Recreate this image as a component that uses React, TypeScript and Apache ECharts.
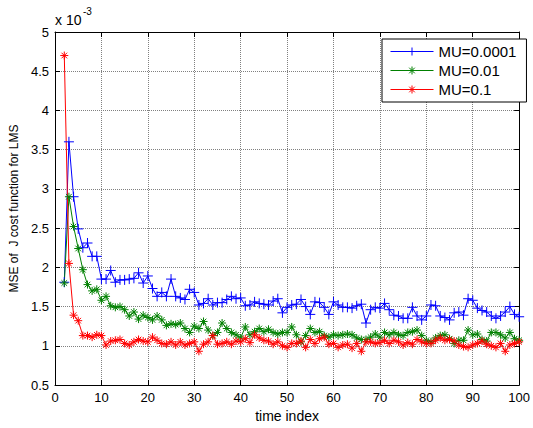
import React, { useEffect, useRef } from "react";
import * as echarts from "echarts";

const START_INDEX = 2;
const seriesNames = ["MU=0.0001", "MU=0.01", "MU=0.1"];
const xTicks = [0, 10, 20, 30, 40, 50, 60, 70, 80, 90, 100];

const mu0001 = [
  1.81, 3.6, 2.9, 2.49, 2.25, 2.31, 2.14, 2.14, 1.85, 1.85,
  1.96, 1.81, 1.84, 1.84, 1.85, 1.86, 1.93, 1.8, 1.89, 1.73,
  1.63, 1.68, 1.63, 1.85, 1.63, 1.61, 1.59, 1.72, 1.68, 1.52,
  1.54, 1.6, 1.52, 1.55, 1.55, 1.59, 1.63, 1.6, 1.61, 1.51,
  1.52, 1.56, 1.54, 1.53, 1.52, 1.57, 1.6, 1.42, 1.49, 1.52,
  1.53, 1.59, 1.5, 1.4, 1.56, 1.55, 1.49, 1.4, 1.56, 1.52,
  1.49, 1.49, 1.48, 1.51, 1.53, 1.29, 1.46, 1.49, 1.48, 1.54,
  1.46, 1.39, 1.38, 1.35, 1.35, 1.49, 1.38, 1.33, 1.38, 1.52,
  1.51, 1.38, 1.36, 1.33, 1.42, 1.43, 1.39, 1.6, 1.58, 1.48,
  1.45, 1.43, 1.38, 1.35, 1.38, 1.43, 1.5, 1.4, 1.37,
];

const mu001 = [
  1.8, 2.9, 2.52, 2.24, 1.97, 1.78, 1.7, 1.72, 1.58, 1.63,
  1.51, 1.49, 1.5, 1.46, 1.38, 1.43, 1.34, 1.39, 1.36, 1.33,
  1.38, 1.33, 1.26, 1.28, 1.27, 1.29, 1.22, 1.17, 1.25, 1.22,
  1.31, 1.2, 1.13, 1.17, 1.29, 1.22, 1.17, 1.14, 1.1, 1.24,
  1.14, 1.18, 1.22, 1.18, 1.21, 1.17, 1.15, 1.17, 1.17, 1.24,
  1.14, 1.05, 1.13, 1.22, 1.17, 1.18, 1.13, 1.11, 1.14, 1.13,
  1.14, 1.15, 1.14, 1.1, 1.08, 1.08, 1.11, 1.15, 1.11, 1.17,
  1.14, 1.17, 1.14, 1.13, 1.17, 1.18, 1.2, 1.13, 1.07, 1.05,
  1.1, 1.13, 1.14, 1.09, 1.03, 1.07, 1.07, 1.2, 1.14, 1.15,
  1.08, 1.06, 1.17, 1.17, 1.14, 1.1, 1.17, 1.09, 1.07,
];

const mu01 = [
  4.7, 2.05, 1.39, 1.32, 1.13, 1.13, 1.11, 1.14, 1.13, 1.01,
  1.06, 1.07, 1.08, 1.03, 1.01, 1.05, 1.08, 1.06, 1.05, 1.11,
  1.07, 1.03, 1.02, 1.05, 1.01, 1.05, 1.01, 1.03, 1.05, 0.93,
  1.02, 1.05, 1.13, 1.02, 1.03, 1.05, 1.02, 1.06, 1.05, 1.09,
  1.04, 1.14, 1.1, 1.07, 1.06, 1.02, 1.05, 1.0, 0.98, 1.03,
  1.03, 1.06, 0.98, 1.08, 1.03, 1.09, 1.11, 1.02, 1.03, 0.98,
  1.01, 1.02, 0.97, 1.03, 0.93, 1.05, 1.05, 1.03, 1.04, 1.07,
  1.03, 1.07, 1.05, 1.01, 1.04, 1.02, 1.08, 1.05, 1.03, 1.03,
  1.07, 1.1, 1.07, 1.08, 1.06, 1.01, 0.99, 0.98, 1.01, 1.03,
  1.06, 1.02, 1.0, 0.98, 1.03, 0.93, 1.01, 1.03, 1.05,
];

const colors = ["#0000ff", "#008000", "#ff0000"];
const FONT = "Liberation Sans, Arial, sans-serif";

const PLUS = "path://M5 0 L5 10 M0 5 L10 5";
const STAR = "path://M5 0 L5 10 M0 5 L10 5 M1.5 1.5 L8.5 8.5 M8.5 1.5 L1.5 8.5";

function toPairs(vals: number[]) {
  return vals.map((v, i) => [START_INDEX + i, v]);
}

export default function App() {
  const ref = useRef<HTMLDivElement>(null);
  useEffect(() => {
    document.body.style.margin = "0";
    const chart = echarts.init(ref.current!, undefined, { renderer: "svg" });
    const axisLine = { show: true, onZero: false, lineStyle: { color: "#000", width: 1 } };
    const tick = { show: true, inside: true, length: 5, lineStyle: { color: "#000" } };
    const split = { show: true, lineStyle: { color: "#808080", type: "dotted" as const, width: 1 } };
    const mkSeries = (name: string, data: number[], color: string, symbol: string, size: number) => ({
      name,
      type: "line",
      data: toPairs(data),
      symbol,
      symbolSize: size,
      showSymbol: true,
      lineStyle: { color, width: 1 },
      itemStyle: { color, borderColor: color, borderWidth: 1 },
      emphasis: { disabled: true },
      z: 3,
    });
    chart.setOption({
      animation: false,
      grid: { left: 55, right: 12, top: 32, bottom: 38, containLabel: false },
      legend: {
        left: 382,
        top: 39,
        orient: "vertical",
        itemWidth: 43,
        itemHeight: 10,
        itemGap: 4,
        padding: [5, 10, 5, 8],
        borderColor: "#000",
        borderWidth: 1,
        backgroundColor: "#fff",
        lineStyle: { width: 1 },
        itemStyle: { borderWidth: 1 },
        textStyle: { fontSize: 15, fontFamily: FONT, color: "#000", padding: [0, 0, 0, 0] },
        data: seriesNames,
      },
      xAxis: [
        {
          type: "value",
          min: xTicks[0],
          max: xTicks[xTicks.length - 1],
          interval: 10,
          name: "time index",
          nameLocation: "middle",
          nameGap: 24,
          nameTextStyle: { fontSize: 14, fontFamily: FONT, color: "#000" },
          axisLine,
          axisTick: tick,
          axisLabel: { fontSize: 13, fontFamily: FONT, color: "#000", margin: 6 },
          splitLine: split,
        },
        {
          type: "value",
          position: "top",
          min: 0,
          max: 100,
          interval: 10,
          axisLine,
          axisTick: tick,
          axisLabel: { show: false },
          splitLine: { show: false },
        },
      ],
      yAxis: [
        {
          type: "value",
          min: 0.5,
          max: 5,
          interval: 0.5,
          name: "MSE of  J cost function for LMS",
          nameLocation: "middle",
          nameGap: 34,
          nameTextStyle: { fontSize: 12, fontFamily: FONT, color: "#000" },
          axisLine,
          axisTick: tick,
          axisLabel: { fontSize: 13, fontFamily: FONT, color: "#000", margin: 6 },
          splitLine: split,
        },
        {
          type: "value",
          position: "right",
          min: 0.5,
          max: 5,
          interval: 0.5,
          axisLine,
          axisTick: tick,
          axisLabel: { show: false },
          splitLine: { show: false },
        },
      ],
      graphic: [
        { type: "text", left: 55, top: 13, style: { text: "x 10", fontSize: 14, fontFamily: FONT, fill: "#000" } },
        { type: "text", left: 83, top: 6, style: { text: "-3", fontSize: 10, fontFamily: FONT, fill: "#000" } },
      ],
      series: [
        mkSeries(seriesNames[0], mu0001, colors[0], PLUS, 10),
        mkSeries(seriesNames[1], mu001, colors[1], STAR, 8),
        mkSeries(seriesNames[2], mu01, colors[2], STAR, 8),
      ],
    });
    return () => chart.dispose();
  }, []);
  return <div ref={ref} style={{ width: 533, height: 428 }} />;
}
